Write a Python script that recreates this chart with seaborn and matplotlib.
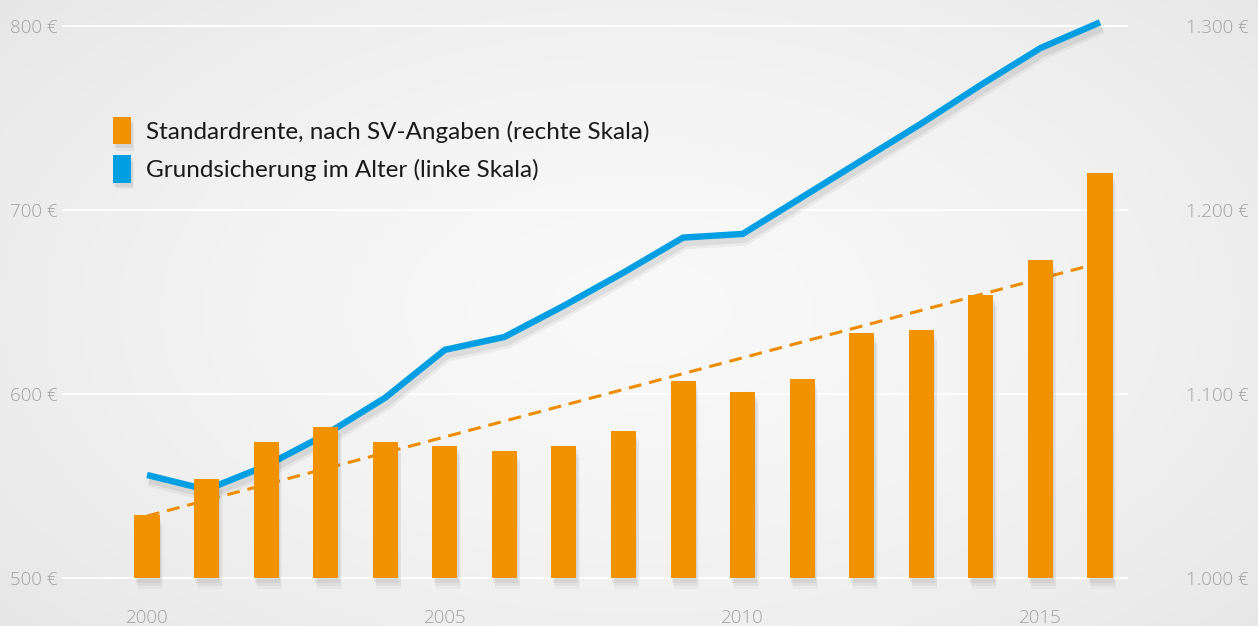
import numpy as np
import matplotlib
matplotlib.use("Agg")
import matplotlib.pyplot as plt
import matplotlib.patheffects as pe
from matplotlib.patches import Patch
from matplotlib.ticker import FuncFormatter
import seaborn as sns

# Daten
jahre = list(range(2000, 2017))
standardrente = [1034, 1054, 1074, 1082, 1074, 1072, 1069, 1072, 1080,
                 1107, 1101, 1108, 1133, 1135, 1154, 1173, 1220]
grundsicherung = [556, 548, 561, 578, 598, 624, 631, 648, 666,
                  685, 687, 707, 727, 747, 768, 788, 802]
links_ticks = [500, 600, 700, 800]
rechts_ticks = [1000, 1100, 1200, 1300]
x_ticks = [2000, 2005, 2010, 2015]
label_rente = "Standardrente, nach SV-Angaben (rechte Skala)"
label_grund = "Grundsicherung im Alter (linke Skala)"

ORANGE = "#f39200"
BLAU = "#009fe3"
GRAU = "#a2a2a2"

sns.set_theme(style="white")
plt.rcParams["font.family"] = ["Open Sans", "DejaVu Sans"]

W, H = 1258, 626
fig = plt.figure(figsize=(W / 100, H / 100), dpi=100)

# Hintergrund: radialer Verlauf
bg = fig.add_axes([0, 0, 1, 1], zorder=-10)
yy, xx = np.mgrid[0:H, 0:W]
r = np.sqrt(((xx - 640) / 720) ** 2 + ((yy - 310) / 420) ** 2)
val = 0.975 - 0.055 * np.clip(r, 0, 1.3) ** 1.5
bg.imshow(np.dstack([val, val, val]), extent=[0, 1, 0, 1], aspect="auto")
bg.axis("off")

# Achsen: 500 -> y=578px, 800 -> y=26px ; 2000 -> x=147px, 2016 -> x=1100px
px_y = 552 / 300
px_x = (1100 - 147) / 16
ylo, yhi = 490, 810
x0, x1 = 62, 1128
bottom = (H - (578 + (500 - ylo) * px_y)) / H
height = (yhi - ylo) * px_y / H
ax = fig.add_axes([x0 / W, bottom, (x1 - x0) / W, height])
ax.set_facecolor("none")
ax2 = ax.twinx()
ax2.set_facecolor("none")

# Grundsicherung (linke Skala)
sns.lineplot(x=jahre, y=grundsicherung, ax=ax, color=BLAU, linewidth=4.6,
             legend=False, solid_capstyle="butt", solid_joinstyle="miter")
line = ax.get_lines()[0]
line.set_path_effects([
    pe.SimpleLineShadow(offset=(1.5, -4), shadow_color="k", alpha=0.05, linewidth=9),
    pe.SimpleLineShadow(offset=(1.5, -3.5), shadow_color="k", alpha=0.07, linewidth=6),
    pe.Normal(),
])

# Standardrente (rechte Skala), Balken ab 1.000 €
basis = 1000
sns.barplot(x=jahre, y=np.array(standardrente) - basis, bottom=basis, ax=ax2,
            native_scale=True, width=0.42, color=ORANGE, saturation=1,
            errorbar=None, linewidth=0, zorder=3)
for p in ax2.patches:
    p.set_path_effects([
        pe.SimplePatchShadow(offset=(2.5, -8), shadow_rgbFace="k", alpha=0.03),
        pe.SimplePatchShadow(offset=(2, -6), shadow_rgbFace="k", alpha=0.045),
        pe.SimplePatchShadow(offset=(1, -3.5), shadow_rgbFace="k", alpha=0.06),
        pe.Normal(),
    ])

# lineare Trendlinie
k, d = np.polyfit(jahre, standardrente, 1)
trend_x = np.array([jahre[0], jahre[-1]])
ax2.plot(trend_x, k * trend_x + d, color="#ee8c00", linewidth=2.2,
         dashes=(4.2, 2.6), zorder=2)

# Skalen
ax.set_xlim(2000 - (147 - x0) / px_x, 2016 + (x1 - 1100) / px_x)
ax.set_ylim(ylo, yhi)
ax2.set_ylim(ylo + 500, yhi + 500)
ax.set_yticks(links_ticks)
ax2.set_yticks(rechts_ticks)
ax.set_xticks(x_ticks)
ax.set_xticklabels([str(j) for j in x_ticks])
ax.yaxis.set_major_formatter(FuncFormatter(lambda v, _: f"{int(v)} €"))
ax2.yaxis.set_major_formatter(
    FuncFormatter(lambda v, _: f"{int(v):,} €".replace(",", ".")))

ax.grid(axis="y", color="white", linewidth=1.3)
ax.grid(axis="x", visible=False)
ax.set_axisbelow(True)
for a in (ax, ax2):
    for s in a.spines.values():
        s.set_visible(False)
    a.set_xlabel("")
    a.set_ylabel("")
ax.tick_params(axis="y", length=0, pad=3.5, labelsize=13.5, labelcolor=GRAU)
ax2.tick_params(axis="y", length=0, pad=42, labelsize=13.5, labelcolor=GRAU)
ax.tick_params(axis="x", length=0, pad=9, labelsize=13.5, labelcolor=GRAU)
for lab in ax.get_yticklabels() + ax2.get_yticklabels() + ax.get_xticklabels():
    lab.set_fontweight("light")

# Legende
handles = [Patch(facecolor=ORANGE, edgecolor="none"),
           Patch(facecolor=BLAU, edgecolor="none")]
leg = fig.legend(handles, [label_rente, label_grund], loc="upper left",
                 bbox_to_anchor=(113 / W, 1 - 117 / H), frameon=False,
                 borderpad=0, borderaxespad=0, handlelength=0.75,
                 handleheight=1.35, handletextpad=0.6, labelspacing=0.45,
                 prop={"family": ["Lato", "DejaVu Sans"], "size": 17.5})
for t in leg.get_texts():
    t.set_color("#1a1a1a")
for p in leg.get_patches():
    p.set_path_effects([
        pe.SimplePatchShadow(offset=(2, -5), shadow_rgbFace="k", alpha=0.05),
        pe.SimplePatchShadow(offset=(1, -3), shadow_rgbFace="k", alpha=0.07),
        pe.Normal(),
    ])

fig.savefig("out.png", dpi=100)
